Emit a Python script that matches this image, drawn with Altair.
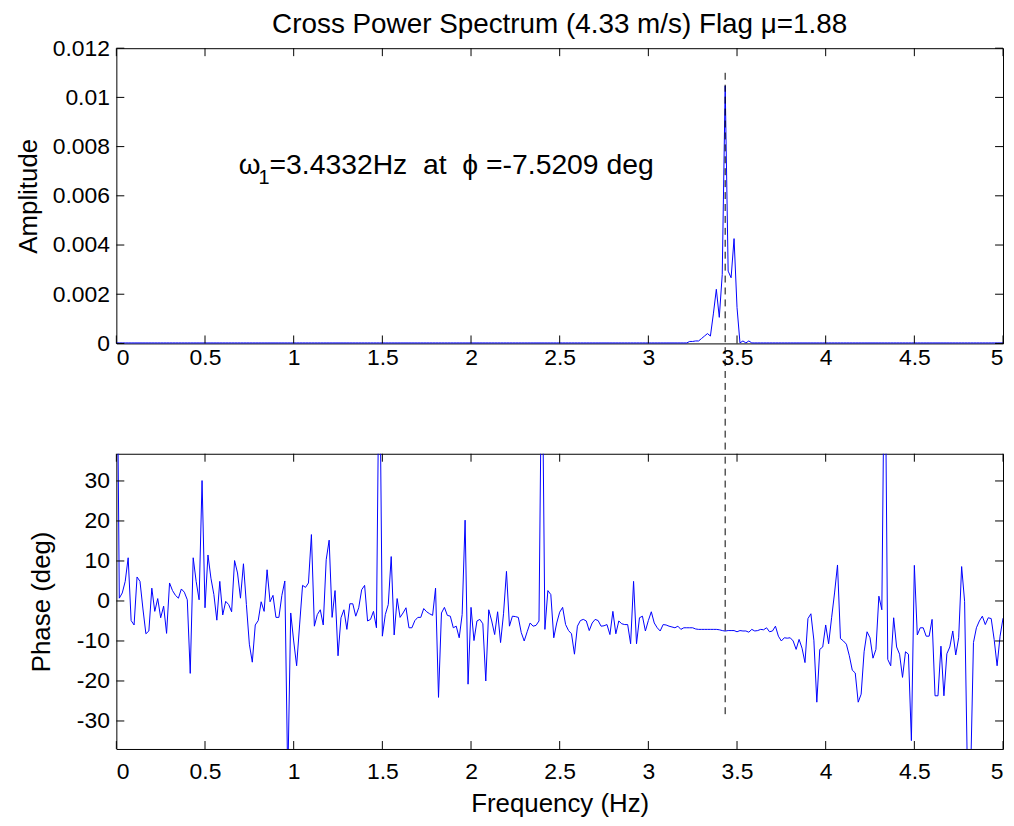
import altair as alt
import pandas as pd

TITLE = "Cross Power Spectrum (4.33 m/s) Flag \u03bc=1.88"
X_TITLE = "Frequency (Hz)"
AMP_TITLE = "Amplitude"
PHASE_TITLE = "Phase (deg)"
ANN_MAIN = "=3.4332Hz\u00a0\u00a0at\u00a0\u00a0\u03d5 =-7.5209 deg"

# phase (deg) sampled every 1/60 Hz, k = 0..300
phase = [
    90, 0.7, 2.0, 4.9, 10.8, -4.9, -6.0, 6.0, 4.9, -2.0,
    -8.2, -7.5, 3.2, -2.6, 0.6, -4.2, -1.3, -8.1, 4.5, 2.6,
    1.4, 0.7, 3.0, 2.2, 0.3, -18.1, 10.8, 4.9, 0.3, 30.1,
    -1.7, 11.5, 5.7, 1.6, -4.8, 4.9, -3.5, -0.1, -0.9, -2.7,
    10.1, 7.0, 0.7, 9.3, -0.9, -10.8, -15.3, -6.0, -4.9, -0.2,
    -2.6, 7.8, -0.2, 1.4, -4.1, -4.1, 1.4, 5.0, -45, -3.0,
    -10.0, -16.2, -6.0, 3.9, 3.4, 4.5, 16.6, -6.3, -3.4, -2.2,
    -6.0, 10.3, 15.2, -4.1, 2.6, -13.7, -4.2, -2.2, -7.1, -0.7,
    -0.7, -3.8, -1.7, 2.8, 3.9, -5.0, -4.6, -2.6, -6.7, 70,
    -8.8, -3.4, -0.9, 11.1, -8.5, 0.6, -4.1, -3.0, -1.7, -6.7,
    -6.7, -4.9, -4.1, -4.1, -1.9, -2.7, -3.2, -3.6, 3.2, -24.1,
    -3.0, -1.6, -3.6, -3.8, -6.7, -6.3, -9.2, -3.4, 20.2, -20.8,
    -1.6, -9.9, -5.0, -4.6, -5.7, -20.0, -2.2, -5.0, -8.4, -2.7,
    -10.4, -3.2, 7.4, -6.3, -3.8, -3.9, -4.1, -7.9, -10.0, -7.7,
    -5.5, -6.3, -6.1, -5.0, 70, -7.1, 2.6, 1.6, -9.2, -5.5,
    -2.8, -1.6, -5.9, -7.4, -8.2, -13.3, -6.3, -4.9, -4.6, -5.0,
    -7.4, -5.5, -4.6, -4.9, -6.3, -6.2, -5.9, -8.4, -2.6, -8.2,
    -5.0, -5.7, -5.9, -5.9, -10.7, 4.9, -10.7, -4.2, -3.8, -7.5,
    -4.9, -2.7, -5.5, -6.7, -7.5, -5.9, -6.0, -6.3, -6.5, -6.7,
    -6.3, -7.1, -6.7, -6.7, -6.7, -6.7, -7.0, -7.1, -7.1, -7.1,
    -7.1, -7.1, -7.1, -7.1, -7.2, -7.4, -7.5209, -7.4, -7.4, -7.4,
    -7.7, -7.4, -7.5, -7.5, -7.8, -7.1, -7.5, -7.4, -7.1, -7.2,
    -6.7, -7.7, -7.5, -6.3, -8.8, -10.0, -9.2, -9.3, -9.2, -10.0,
    -12.1, -9.6, -11.8, -15.4, -4.4, -3.2, -9.8, -25.3, -12.1, -11.5,
    -6.0, -10.7, -4.2, 2.0, 9.0, -9.4, -10.0, -10.8, -13.7, -17.3,
    -18.0, -25.3, -23.3, -12.7, -7.7, -9.2, -14.3, -12.1, 1.2, -2.2,
    75, -14.6, -16.2, -4.2, -11.5, -13.3, -19.1, -12.7, -13.3, -34.9,
    8.9, -8.5, -6.7, -6.7, -8.8, -8.8, -4.6, -23.7, -23.7, -11.3,
    -23.7, -13.2, -11.5, -7.5, -13.5, -9.2, 8.6, -0.1, -45, -45,
    -10.4, -6.7, -5.0, -3.8, -5.9, -4.2, -4.4, -9.6, -16.2, -8.8,
    -4.3,
]

# amplitude: flat baseline, then the peak around 3.43 Hz (k = 194..215)
amp_peak = [
    0.00008, 0.00008, 0.0001, 0.0001, 0.0002, 0.0003, 0.0004, 0.0003,
    0.0012, 0.0022, 0.00106, 0.0028, 0.01047, 0.00294, 0.00267, 0.00426,
    0.00146, 0.00002, 0.0001, 0.00002, 0.0001, 0.00002,
]
amp = [0.00002] * 194 + amp_peak + [0.00002] * (len(phase) - 194 - len(amp_peak))

freq = [k / 60 for k in range(len(phase))]

x_ticks = [0, 0.5, 1, 1.5, 2, 2.5, 3, 3.5, 4, 4.5, 5]
amp_ticks = [0, 0.002, 0.004, 0.006, 0.008, 0.01, 0.012]
phase_ticks = [-30, -20, -10, 0, 10, 20, 30]

peak_f = [3.4332]
peak_amp_top = [0.011]
peak_phase_bottom = [-28.3]

ann_f = [0.69]
ann_amp = [0.0069]

W, H = 892, 297
GAP = 111
TICK = 8
FONT = "Liberation Sans"
BLUE = "#0000ff"

df = pd.DataFrame({"f": freq, "amp": amp, "phase": phase})

xscale = alt.Scale(domain=[0, 5], nice=False, zero=False)
ascale = alt.Scale(domain=[0, 0.012], nice=False, zero=False)
pscale = alt.Scale(domain=[-37, 36.8], nice=False, zero=False)

LBL = "toString(datum.value)"

x_axis_top = alt.Axis(values=x_ticks, labelExpr=LBL, title="", labelPadding=3)
x_axis_bot = alt.Axis(values=x_ticks, labelExpr=LBL, title=X_TITLE,
                      labelPadding=12, titlePadding=7)
y_axis_amp = alt.Axis(values=amp_ticks, labelExpr=LBL, title=AMP_TITLE,
                      labelPadding=7, titlePadding=11)
y_axis_ph = alt.Axis(values=phase_ticks, labelExpr=LBL, title=PHASE_TITLE,
                     labelPadding=7, titlePadding=22)


def inner_ticks(yticks, yscale, xax, yax):
    xt = alt.Chart(pd.DataFrame({"t": x_ticks}))
    yt = alt.Chart(pd.DataFrame({"t": yticks}))
    r = dict(color="black", strokeWidth=1)
    return [
        xt.mark_rule(**r).encode(x=alt.X("t:Q", scale=xscale, axis=xax),
                                 y=alt.value(H), y2=alt.value(H - TICK)),
        xt.mark_rule(**r).encode(x=alt.X("t:Q", scale=xscale, axis=xax),
                                 y=alt.value(0), y2=alt.value(TICK)),
        yt.mark_rule(**r).encode(y=alt.Y("t:Q", scale=yscale, axis=yax),
                                 x=alt.value(0), x2=alt.value(TICK)),
        yt.mark_rule(**r).encode(y=alt.Y("t:Q", scale=yscale, axis=yax),
                                 x=alt.value(W), x2=alt.value(W - TICK)),
    ]


# ---- top panel
top_line = alt.Chart(df).mark_line(color=BLUE, strokeWidth=1).encode(
    x=alt.X("f:Q", scale=xscale, axis=x_axis_top),
    y=alt.Y("amp:Q", scale=ascale, axis=y_axis_amp),
)

top_rule = alt.Chart(pd.DataFrame({"f": peak_f, "a": peak_amp_top})).mark_rule(
    color="#000000", strokeWidth=1, strokeDash=[7, 5]
).encode(
    x=alt.X("f:Q", scale=xscale, axis=x_axis_top),
    y=alt.Y("a:Q", scale=ascale, axis=y_axis_amp),
    y2=alt.value(H + GAP),
)

ann_df = pd.DataFrame({"f": ann_f, "a": ann_amp})
ann_base = alt.Chart(ann_df)
ann_enc = dict(x=alt.X("f:Q", scale=xscale, axis=x_axis_top),
               y=alt.Y("a:Q", scale=ascale, axis=y_axis_amp))
ann_omega = ann_base.mark_text(text="\u03c9", font=FONT, fontSize=28, align="left",
                               baseline="alphabetic", color="black").encode(**ann_enc)
ann_sub = ann_base.mark_text(text="1", font=FONT, fontSize=20, align="left",
                             baseline="alphabetic", dx=20, dy=10, color="black").encode(**ann_enc)
ann_rest = ann_base.mark_text(text=ANN_MAIN, font=FONT, fontSize=28.5, align="left",
                              baseline="alphabetic", dx=31, color="black").encode(**ann_enc)

top = alt.layer(top_line, top_rule, ann_omega, ann_sub, ann_rest,
                *inner_ticks(amp_ticks, ascale, x_axis_top, y_axis_amp)
                ).properties(width=W, height=H)

# ---- bottom panel
bot_line = alt.Chart(df).mark_line(color=BLUE, strokeWidth=1, clip=True).encode(
    x=alt.X("f:Q", scale=xscale, axis=x_axis_bot),
    y=alt.Y("phase:Q", scale=pscale, axis=y_axis_ph),
)

bot_rule = alt.Chart(pd.DataFrame({"f": peak_f, "p": peak_phase_bottom})).mark_rule(
    color="#000000", strokeWidth=1, strokeDash=[7, 5]
).encode(
    x=alt.X("f:Q", scale=xscale, axis=x_axis_bot),
    y=alt.Y("p:Q", scale=pscale, axis=y_axis_ph),
    y2=alt.value(0),
)

bottom = alt.layer(bot_line, bot_rule,
                   *inner_ticks(phase_ticks, pscale, x_axis_bot, y_axis_ph)
                   ).properties(width=W, height=H)

chart = alt.vconcat(top, bottom, spacing=GAP, bounds="flush").properties(
    title=alt.TitleParams(TITLE, font=FONT, fontSize=28, fontWeight="normal",
                          color="black", anchor="middle", frame="group",
                          offset=-2),
    padding={"left": 6, "top": 0, "right": 0, "bottom": 0},
).configure_view(
    stroke="black", strokeWidth=1
).configure_axis(
    labelFont=FONT, labelFontSize=23, labelColor="black",
    titleFont=FONT, titleFontSize=26, titleFontWeight="normal", titleColor="black",
    ticks=False, domain=False, grid=False,
)

chart.save("out.html", embed_options={"renderer": "svg", "actions": False})
